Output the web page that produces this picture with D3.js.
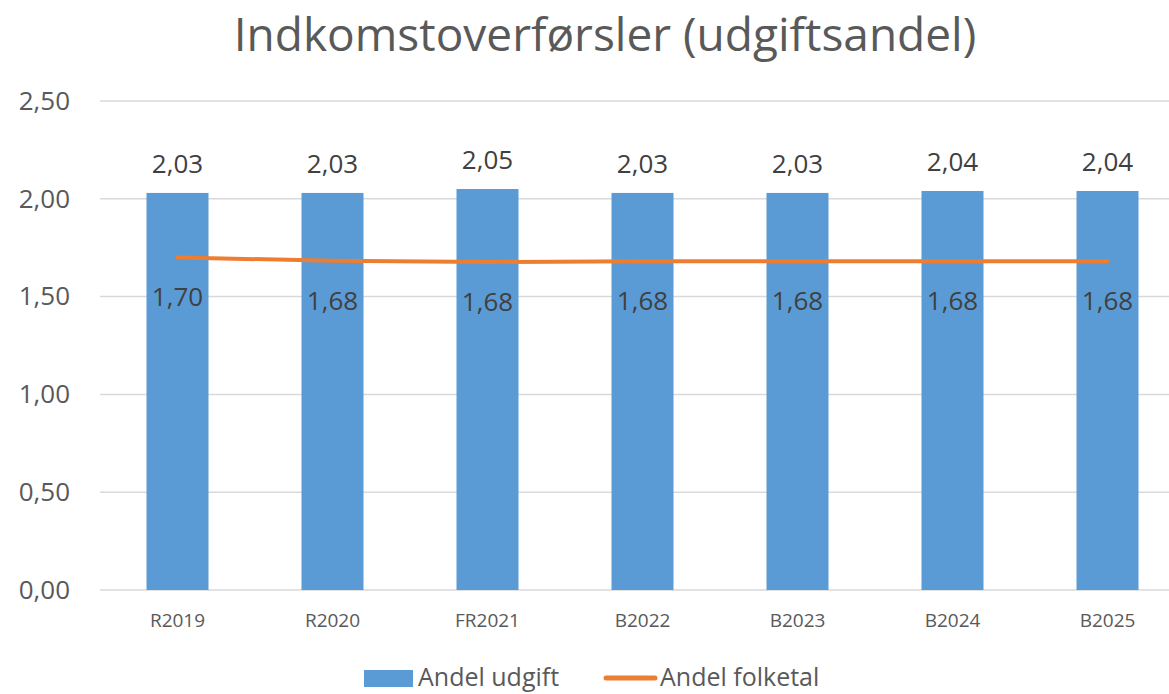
<!DOCTYPE html>
<html>
<head>
<meta charset="utf-8">
<script src="https://cdn.jsdelivr.net/npm/d3@7"></script>
<style>
  body { margin: 0; background: #fff; overflow: hidden; }
  svg { display: block; font-family: "Open Sans", "Noto Sans", sans-serif; }
</style>
</head>
<body>
<div id="chart"></div>
<script>
const categories = ["R2019", "R2020", "FR2021", "B2022", "B2023", "B2024", "B2025"];
const andelUdgift = [2.03, 2.03, 2.05, 2.03, 2.03, 2.04, 2.04];
const andelFolketal = [1.70, 1.683, 1.677, 1.681, 1.681, 1.681, 1.681];
const yTicks = [0, 0.5, 1, 1.5, 2, 2.5];

const width = 1169, height = 694;
const margin = { top: 101, left: 100, bottom: 104 };
const textColor = "#595959";
const fmt = (v) => v.toFixed(2).replace(".", ",");

const svg = d3.select("#chart").append("svg")
  .attr("width", width)
  .attr("height", height);

// category bands run past the right edge like the original (step 155)
const x = d3.scaleBand()
  .domain(categories)
  .range([margin.left, margin.left + 155 * categories.length]);
const barW = 62;
const xc = (c) => x(c) + x.bandwidth() / 2;

const y = d3.scaleLinear()
  .domain([0, 2.5])
  .range([height - margin.bottom, margin.top]);

// title
svg.append("text")
  .attr("x", 605)
  .attr("y", 51)
  .attr("text-anchor", "middle")
  .attr("fill", textColor)
  .style("font-size", "46px")
  .text("Indkomstoverførsler (udgiftsandel)");

// grid
svg.append("g")
  .selectAll("line")
  .data(yTicks)
  .join("line")
  .attr("x1", margin.left)
  .attr("x2", width)
  .attr("y1", (d) => y(d))
  .attr("y2", (d) => y(d))
  .attr("stroke", "#d9d9d9")
  .attr("stroke-width", 1.5);

// y axis labels
const yAxis = d3.axisLeft(y).tickValues(yTicks).tickFormat(fmt).tickSize(0).tickPadding(30);
const yg = svg.append("g")
  .attr("transform", `translate(${margin.left},0)`)
  .call(yAxis);
yg.select(".domain").remove();
yg.selectAll("text")
  .attr("fill", textColor)
  .style("font-size", "26px")
  .style("font-family", "'Open Sans', sans-serif");

// x axis labels
svg.append("g")
  .selectAll("text")
  .data(categories)
  .join("text")
  .attr("x", (d) => xc(d))
  .attr("y", 627)
  .attr("text-anchor", "middle")
  .attr("fill", textColor)
  .style("font-size", "19px")
  .text((d) => d);

// bars
svg.append("g")
  .selectAll("rect")
  .data(andelUdgift)
  .join("rect")
  .attr("x", (d, i) => xc(categories[i]) - barW / 2)
  .attr("width", barW)
  .attr("y", (d) => y(d))
  .attr("height", (d) => y(0) - y(d))
  .attr("fill", "#5b9bd5");

// line
const line = d3.line()
  .x((d, i) => xc(categories[i]))
  .y((d) => y(d));

svg.append("path")
  .datum(andelFolketal)
  .attr("d", line)
  .attr("fill", "none")
  .attr("stroke", "#ed7d31")
  .attr("stroke-width", 4)
  .attr("stroke-linecap", "round")
  .attr("stroke-linejoin", "round");

// bar labels
svg.append("g")
  .selectAll("text")
  .data(andelUdgift)
  .join("text")
  .attr("x", (d, i) => xc(categories[i]))
  .attr("y", (d) => y(d) - 20)
  .attr("text-anchor", "middle")
  .attr("fill", "#404040")
  .style("font-size", "26px")
  .text((d) => fmt(d));

// line labels
svg.append("g")
  .selectAll("text")
  .data(andelFolketal)
  .join("text")
  .attr("x", (d, i) => xc(categories[i]))
  .attr("y", (d) => y(d) + 49)
  .attr("text-anchor", "middle")
  .attr("fill", "#404040")
  .style("font-size", "26px")
  .text((d) => fmt(d));

// legend
const lg = svg.append("g");
lg.append("rect")
  .attr("x", 364).attr("y", 670)
  .attr("width", 49).attr("height", 17)
  .attr("fill", "#5b9bd5");
lg.append("text")
  .attr("x", 418).attr("y", 686)
  .attr("fill", textColor)
  .style("font-size", "25px")
  .text("Andel udgift");
lg.append("line")
  .attr("x1", 606).attr("x2", 655)
  .attr("y1", 678).attr("y2", 678)
  .attr("stroke", "#ed7d31")
  .attr("stroke-width", 5)
  .attr("stroke-linecap", "round");
lg.append("text")
  .attr("x", 660).attr("y", 686)
  .attr("fill", textColor)
  .style("font-size", "25px")
  .text("Andel folketal");
</script>
</body>
</html>
